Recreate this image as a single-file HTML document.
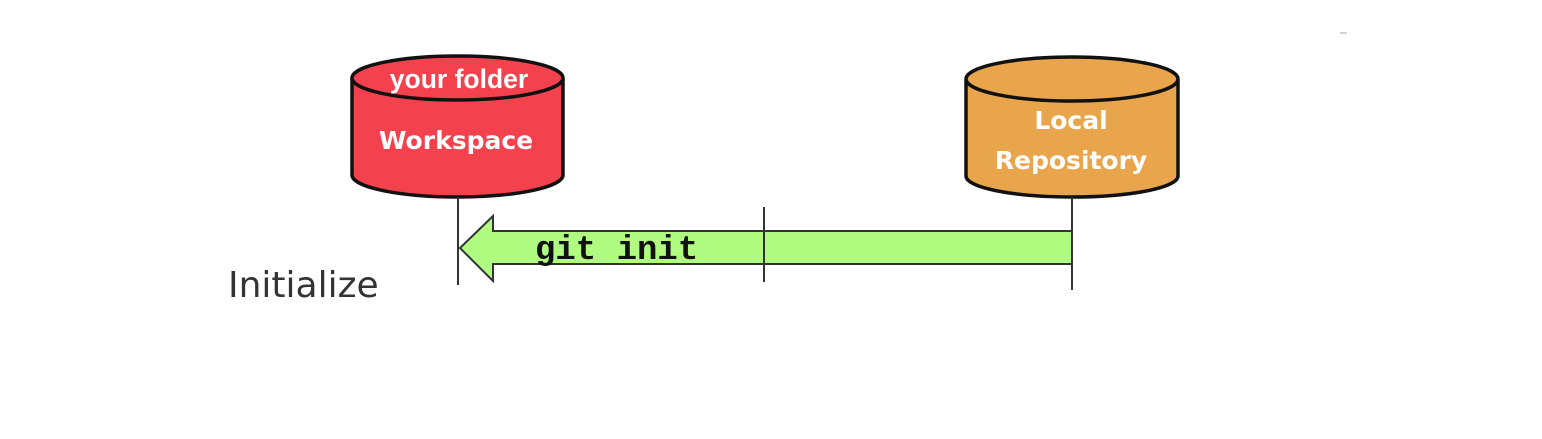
<!DOCTYPE html>
<html><head><style>
html,body{margin:0;padding:0;background:#fff;width:1542px;height:439px;overflow:hidden}
</style></head><body>
<svg width="1542" height="439" xmlns="http://www.w3.org/2000/svg">
<rect width="1542" height="439" fill="#fff"/>
<line x1="1340" y1="33" x2="1347" y2="33" stroke="#aaa" stroke-width="1"/>
<path d="M352,78 L352,175 A105.5,22 0 0 0 563,175 L563,78" fill="#f3424d" stroke="#111" stroke-width="3.5"/>
<ellipse cx="457.5" cy="78" rx="105.5" ry="22" fill="#f3424d" stroke="#111" stroke-width="3.5"/>
<text x="459" y="88" font-family="Liberation Sans, sans-serif" font-weight="bold" font-size="26.5" fill="#fff" text-anchor="middle">your folder</text>
<text x="456" y="149" font-family="DejaVu Sans, sans-serif" font-weight="bold" font-size="25" fill="#fff" text-anchor="middle">Workspace</text>
<path d="M966,80 L966,176 A106,21 0 0 0 1178,176 L1178,80" fill="#e9a54c" stroke="#111" stroke-width="3.5"/>
<ellipse cx="1072" cy="79" rx="106" ry="22" fill="#e9a54c" stroke="#111" stroke-width="3.5"/>
<text x="1071" y="129" font-family="DejaVu Sans, sans-serif" font-weight="bold" font-size="25" fill="#fff" text-anchor="middle">Local</text>
<text x="1071" y="169" font-family="DejaVu Sans, sans-serif" font-weight="bold" font-size="25" fill="#fff" text-anchor="middle">Repository</text>
<line x1="458" y1="197" x2="458" y2="285" stroke="#333" stroke-width="2"/>
<line x1="764" y1="207" x2="764" y2="282" stroke="#333" stroke-width="2"/>
<line x1="1072" y1="197" x2="1072" y2="290" stroke="#333" stroke-width="2"/>
<path d="M1072,231 L493,231 L493,216 L460,248 L493,281 L493,264 L1072,264 Z" fill="#b0fc80" stroke="#333" stroke-width="2"/>
<line x1="764" y1="231" x2="764" y2="264" stroke="#333" stroke-width="2"/>
<text x="535" y="259" font-family="Liberation Mono, monospace" font-weight="bold" font-size="34" fill="#111">git init</text>
<text x="228" y="297" font-family="DejaVu Sans, sans-serif" font-size="36" fill="#333">Initialize</text>
</svg>
</body></html>
